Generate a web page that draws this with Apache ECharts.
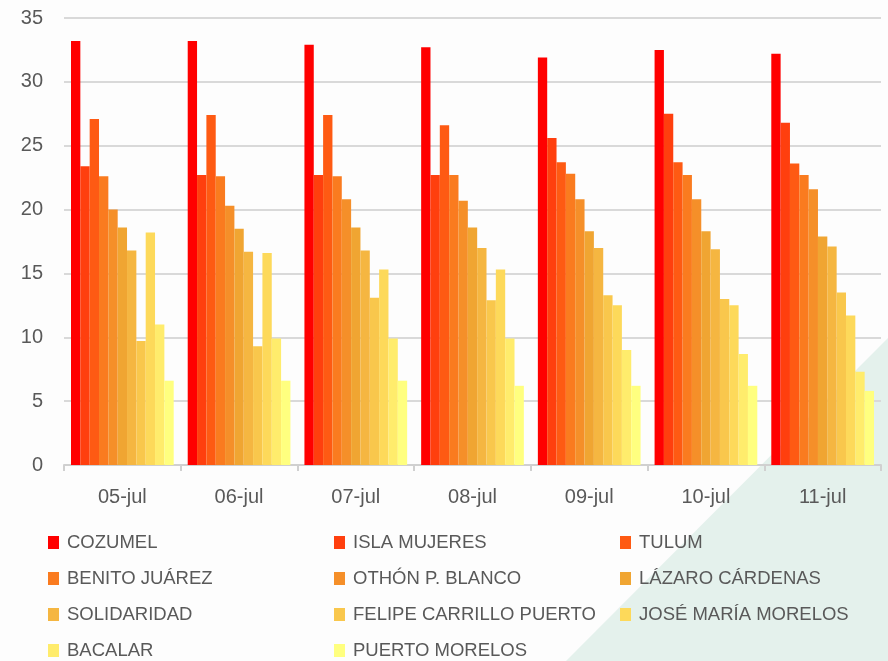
<!DOCTYPE html>
<html>
<head>
<meta charset="utf-8">
<title>Quintana Roo</title>
<script src="https://cdn.jsdelivr.net/npm/echarts@6/dist/echarts.min.js"></script>
<style>
html, body { margin: 0; padding: 0; background: #fdfdfd; }
#myChart { width: 888px; height: 661px; }
</style>
</head>
<body>
<div id="myChart"></div>
<script>
// fechas del eje x
var dias = ['05-jul', '06-jul', '07-jul', '08-jul', '09-jul', '10-jul', '11-jul'];

var municipios = ['COZUMEL', 'ISLA MUJERES', 'TULUM', 'BENITO JUÁREZ', 'OTHÓN P. BLANCO',
  'LÁZARO CÁRDENAS', 'SOLIDARIDAD', 'FELIPE CARRILLO PUERTO', 'JOSÉ MARÍA MORELOS',
  'BACALAR', 'PUERTO MORELOS'];

var colores = ['#ff0000', '#ff3f0e', '#fe5a13', '#fa7b1f', '#f58f29', '#f0a532',
  '#f5b641', '#f9c74c', '#fdd95a', '#ffec6c', '#ffff7f'];

// valores leidos por municipio, un valor por dia
var cozumel      = [33.2, 33.2, 32.9, 32.7, 31.9, 32.5, 32.2];
var islaMujeres  = [23.4, 22.7, 22.7, 22.7, 25.6, 27.5, 26.8];
var tulum        = [27.1, 27.4, 27.4, 26.6, 23.7, 23.7, 23.6];
var benitoJuarez = [22.6, 22.6, 22.6, 22.7, 22.8, 22.7, 22.7];
var othon        = [20.0, 20.3, 20.8, 20.7, 20.8, 20.8, 21.6];
var lazaro       = [18.6, 18.5, 18.6, 18.6, 18.3, 18.3, 17.9];
var solidaridad  = [16.8, 16.7, 16.8, 17.0, 17.0, 16.9, 17.1];
var felipe       = [9.7, 9.3, 13.1, 12.9, 13.3, 13.0, 13.5];
var jose         = [18.2, 16.6, 15.3, 15.3, 12.5, 12.5, 11.7];
var bacalar      = [11.0, 9.9, 9.9, 9.9, 9.0, 8.7, 7.3];
var puerto       = [6.6, 6.6, 6.6, 6.2, 6.2, 6.2, 5.8];

var valores = [cozumel, islaMujeres, tulum, benitoJuarez, othon, lazaro,
  solidaridad, felipe, jose, bacalar, puerto];

var gris = '#595959';
var fuente = '"Liberation Sans", Arial, sans-serif';

var series = [];
for (var i = 0; i < municipios.length; i++) {
  series.push({
    name: municipios[i],
    type: 'bar',
    data: valores[i],
    barGap: 0,
    barCategoryGap: '12%',
    itemStyle: { color: colores[i] }
  });
}

var myChart = echarts.init(document.getElementById('myChart'));
var option = {
  backgroundColor: '#fdfdfd',
  animation: false,
  textStyle: { fontFamily: fuente },
  // franja verde clara de fondo abajo a la derecha
  graphic: [{
    type: 'polygon',
    z: -10,
    silent: true,
    shape: { points: [[888, 338], [888, 661], [566, 661]] },
    style: { fill: '#e4f1ec' }
  }],
  grid: { left: 64, right: 7, top: 18, bottom: 196 },
  legend: {
    data: municipios,
    left: 43,
    top: 527,
    width: 860,
    itemWidth: 11,
    itemHeight: 13,
    itemGap: 15,
    icon: 'rect',
    selectedMode: false,
    textStyle: {
      color: gris,
      fontSize: 18.5,
      fontFamily: fuente,
      width: 252,
      lineHeight: 21,
      padding: [0, 0, 0, 3]
    }
  },
  xAxis: {
    type: 'category',
    data: dias,
    axisLine: { lineStyle: { color: '#d0d0d0', width: 2 } },
    axisTick: { show: true, length: 6, lineStyle: { color: '#d0d0d0', width: 2 } },
    axisLabel: { color: gris, fontSize: 20, margin: 22, fontFamily: fuente }
  },
  yAxis: {
    type: 'value',
    min: 0,
    max: 35,
    interval: 5,
    axisLine: { show: false },
    axisTick: { show: false },
    axisLabel: { color: gris, fontSize: 20, margin: 21, fontFamily: fuente },
    splitLine: { lineStyle: { color: '#d9d9d9', width: 2 } }
  },
  series: series
};
myChart.setOption(option);
</script>
</body>
</html>
